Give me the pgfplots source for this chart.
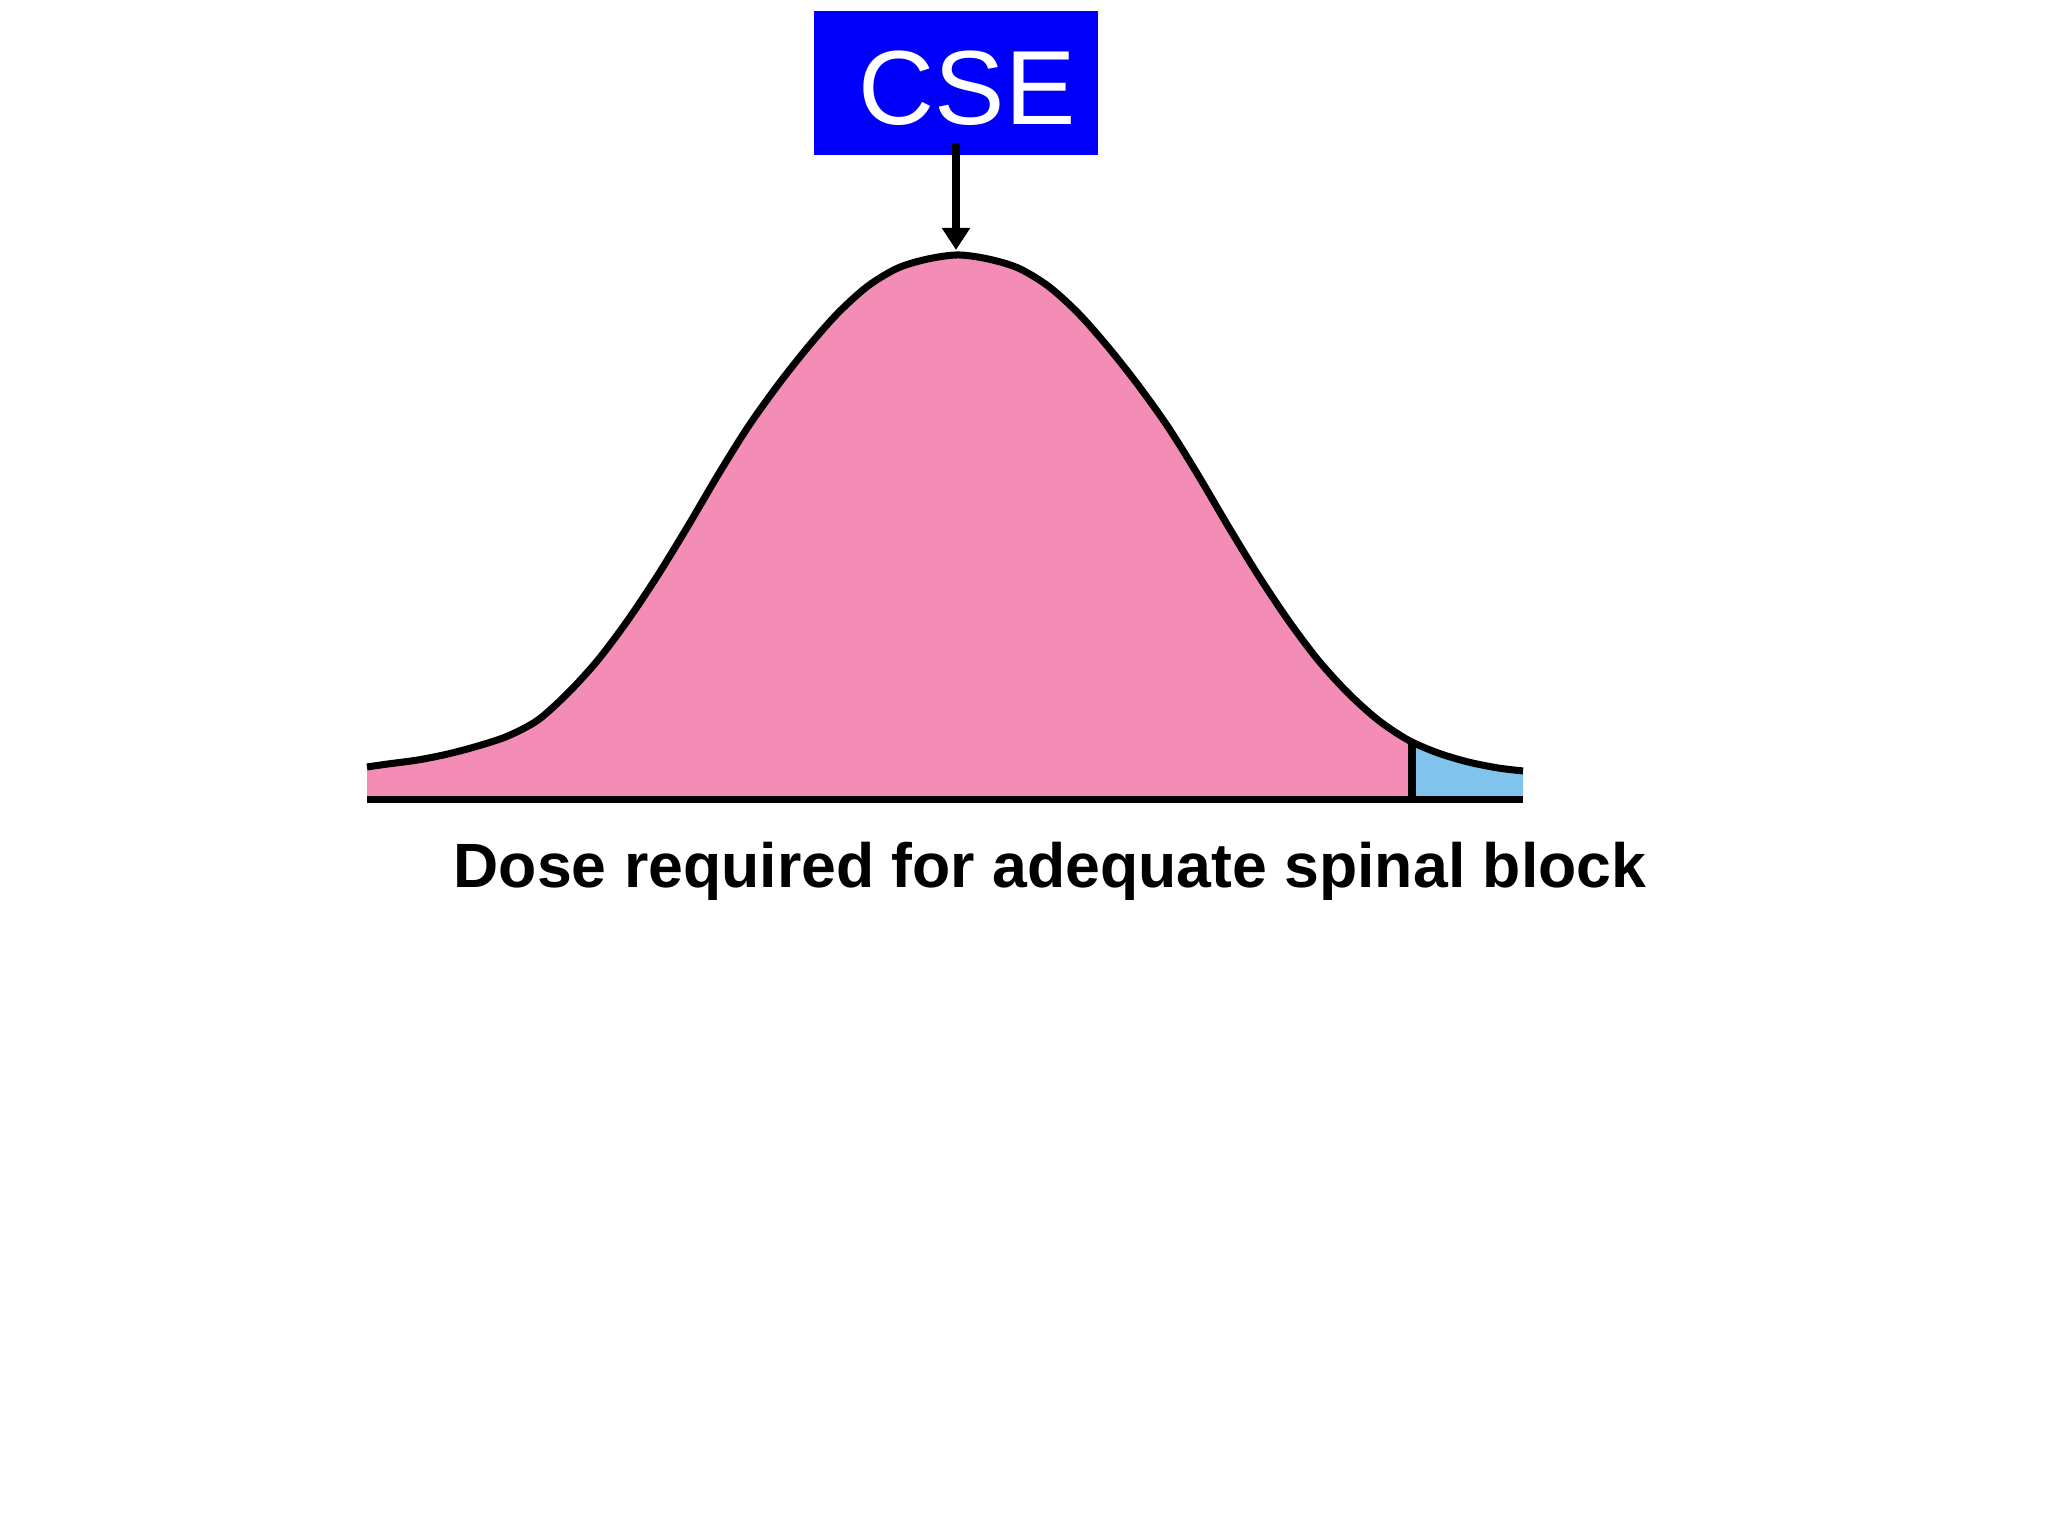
\documentclass[border=0pt]{standalone}
\usepackage{pgfplots}
\pgfplotsset{compat=1.18}
\usetikzlibrary{arrows.meta}
\usepackage{fontspec}
\setmainfont{Liberation Sans}
\definecolor{curvepink}{RGB}{244,141,182}
\definecolor{tailblue}{RGB}{128,196,238}
\definecolor{boxblue}{RGB}{0,0,250}
\pgfplotstableread{
x h
367 33
388 36
418 40
448 46
478 54
508 64
538 80
568 107
598 140
628 180
658 225
688 274
718 325
748 373
778 415
808 453
838 487
868 514
898 532
928 541
958 545
988 541
1018 532
1048 514
1078 487
1108 453
1138 415
1168 373
1198 325
1228 274
1258 225
1288 180
1318 140
1348 107
1378 80
1408 60
1412 58
}\leftdata
\pgfplotstableread{
x h
1412 58
1438 47
1468 38
1498 32
1523 29
}\rightdata
\pgfplotstableread{
x h
367 33
388 36
418 40
448 46
478 54
508 64
538 80
568 107
598 140
628 180
658 225
688 274
718 325
748 373
778 415
808 453
838 487
868 514
898 532
928 541
958 545
988 541
1018 532
1048 514
1078 487
1108 453
1138 415
1168 373
1198 325
1228 274
1258 225
1288 180
1318 140
1348 107
1378 80
1408 60
1438 47
1468 38
1498 32
1523 29
}\curvedata
\begin{document}
\begin{tikzpicture}
\path (0,0) rectangle (20.48cm,15.36cm);
\begin{axis}[at={(0,0)}, anchor=south west, scale only axis,
  width=20.48cm, height=15.36cm,
  xmin=0, xmax=2048, ymin=-736, ymax=800,
  hide axis, clip=false]
\addplot[fill=curvepink, draw=none, smooth] table[x=x, y=h] {\leftdata} \closedcycle;
\addplot[fill=tailblue, draw=none, smooth] table[x=x, y=h] {\rightdata} \closedcycle;
\addplot[black, line width=2pt, smooth] table[x=x, y=h] {\curvedata};
\addplot[black, line width=2pt] coordinates {(367,0) (1523,0)};
\addplot[black, line width=2pt] coordinates {(1412,0) (1412,58)};
\addplot[fill=boxblue, draw=none] coordinates {(814,789) (1098,789) (1098,645) (814,645)} -- cycle;
\node[anchor=base, text=white, font=\fontsize{30}{30}\selectfont] at (axis cs:967,675) {CSE};
\draw[line width=2.3pt, -{Triangle[width=2.7mm,length=2.2mm]}] (axis cs:956,657) -- (axis cs:956,550);
\node[anchor=base, font=\bfseries\fontsize{17.8}{17.8}\selectfont] at (axis cs:1050,-88) {Dose required for adequate spinal block};
\end{axis}
\end{tikzpicture}
\end{document}
